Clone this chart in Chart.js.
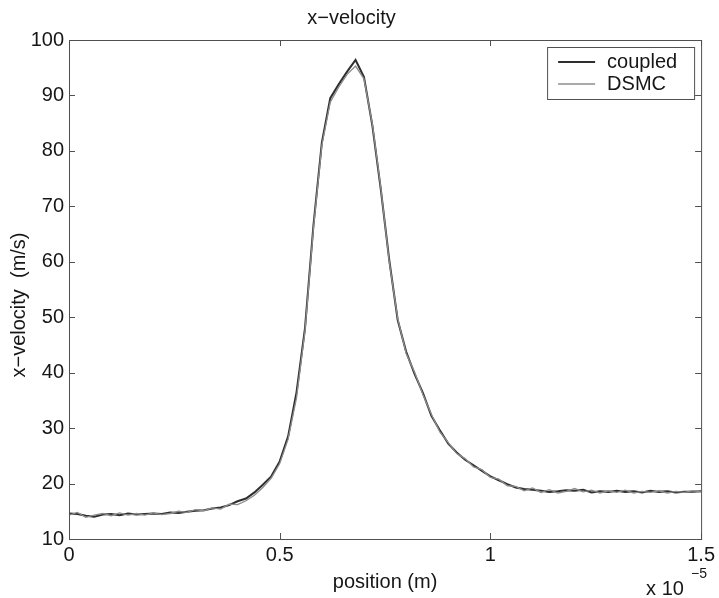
<!DOCTYPE html>
<html>
<head>
<meta charset="utf-8">
<title>x-velocity</title>
<script src="https://cdn.jsdelivr.net/npm/chart.js@4.4.1/dist/chart.umd.min.js"></script>
<style>
  body { margin: 0; background: #fff; }
</style>
</head>
<body>
<canvas id="velocityChart" width="719" height="598"></canvas>
<script>
// Data (position in units of 1e-5 m)
const positions = [
    0.00, 0.02, 0.04, 0.06, 0.08, 0.10, 0.12, 0.14, 0.16, 0.18,
    0.20, 0.22, 0.24, 0.26, 0.28, 0.30, 0.32, 0.34, 0.36, 0.38,
    0.40, 0.42, 0.44, 0.46, 0.48, 0.50, 0.52, 0.54, 0.56, 0.58,
    0.60, 0.62, 0.64, 0.66, 0.68, 0.70, 0.72, 0.74, 0.76, 0.78,
    0.80, 0.82, 0.84, 0.86, 0.88, 0.90, 0.92, 0.94, 0.96, 0.98,
    1.00, 1.02, 1.04, 1.06, 1.08, 1.10, 1.12, 1.14, 1.16, 1.18,
    1.20, 1.22, 1.24, 1.26, 1.28, 1.30, 1.32, 1.34, 1.36, 1.38,
    1.40, 1.42, 1.44, 1.46, 1.48, 1.50
];
const coupledVelocity = [
    14.6, 14.5, 14.2, 14.0, 14.4, 14.5, 14.3, 14.6, 14.4, 14.5,
    14.6, 14.5, 14.8, 14.7, 14.9, 15.1, 15.2, 15.5, 15.7, 16.1,
    16.8, 17.3, 18.4, 19.8, 21.3, 24.0, 28.5, 36.5, 48.0, 66.5,
    81.5, 89.5, 92.0, 94.3, 96.4, 93.3, 84.5, 73.0, 60.3, 49.5,
    43.8, 39.8, 36.3, 32.2, 29.6, 27.2, 25.6, 24.3, 23.3, 22.3,
    21.3, 20.6, 19.9, 19.3, 19.0, 18.9, 18.7, 18.5, 18.6, 18.8,
    18.7, 18.9, 18.4, 18.6, 18.5, 18.7, 18.5, 18.6, 18.4, 18.7,
    18.5, 18.6, 18.4, 18.5, 18.5, 18.6
];
const dsmcVelocity = [
    14.3, 14.8, 13.9, 14.3, 14.6, 14.2, 14.7, 14.3, 14.6, 14.3,
    14.7, 14.4, 14.6, 15.0, 14.8, 15.3, 15.1, 15.6, 15.4, 16.3,
    16.2, 16.9, 17.9, 19.3, 21.0, 23.6, 28.0, 35.5, 47.5, 66.0,
    81.0, 88.8, 91.5, 93.8, 95.3, 93.0, 84.8, 73.3, 60.0, 49.8,
    43.5, 40.1, 36.0, 32.5, 29.3, 27.4, 25.4, 24.5, 23.0, 22.5,
    21.1, 20.8, 19.6, 19.5, 18.7, 19.2, 18.4, 18.9, 18.3, 18.6,
    19.1, 18.5, 18.8, 18.3, 18.7, 18.4, 18.8, 18.3, 18.6, 18.4,
    18.7, 18.3, 18.6, 18.4, 18.7, 18.5
];
const seriesLabels = ['coupled', 'DSMC'];
const xTicks = [0, 0.5, 1, 1.5];
const yTicks = [10, 20, 30, 40, 50, 60, 70, 80, 90, 100];

const FONT = '"Liberation Sans", Arial, Helvetica, sans-serif';
const TEXT_COLOR = '#161616';
const AXIS_COLOR = '#505050';
const COUPLED_COLOR = '#2e2e2e';
const DSMC_COLOR = '#8c8c8c';

function toPoints(values) {
    return positions.map((p, i) => ({ x: p, y: values[i] }));
}

// Box around the axes with inward tick marks, like the original plot
const frameAndTicks = {
    id: 'frameAndTicks',
    afterDatasetsDraw(chart) {
        const { ctx, chartArea: a, scales } = chart;
        const len = 6;
        ctx.save();
        ctx.strokeStyle = AXIS_COLOR;
        ctx.lineWidth = 1;
        ctx.strokeRect(a.left + 0.5, a.top + 0.5, a.right - a.left, a.bottom - a.top);
        ctx.beginPath();
        xTicks.forEach(v => {
            const px = Math.round(scales.x.getPixelForValue(v)) + 0.5;
            ctx.moveTo(px, a.bottom); ctx.lineTo(px, a.bottom - len);
            ctx.moveTo(px, a.top); ctx.lineTo(px, a.top + len);
        });
        yTicks.forEach(v => {
            const py = Math.round(scales.y.getPixelForValue(v)) + 0.5;
            ctx.moveTo(a.left, py); ctx.lineTo(a.left + len, py);
            ctx.moveTo(a.right, py); ctx.lineTo(a.right - len, py);
        });
        ctx.stroke();
        ctx.restore();
    }
};

// MATLAB-style legend box in the top right corner, the y label and the x 10^-5 exponent
const boxLegend = {
    id: 'boxLegend',
    afterDraw(chart) {
        const { ctx, chartArea: a } = chart;
        const sets = chart.data.datasets;
        const bx = a.right - 154, by = a.top + 7, bw = 147, bh = 52;
        ctx.save();
        ctx.fillStyle = '#fff';
        ctx.fillRect(bx, by, bw, bh);
        ctx.strokeStyle = AXIS_COLOR;
        ctx.lineWidth = 1;
        ctx.strokeRect(bx + 0.5, by + 0.5, bw, bh);
        ctx.font = '20px ' + FONT;
        ctx.textBaseline = 'middle';
        sets.forEach((ds, i) => {
            const y = by + 15 + i * 22;
            ctx.strokeStyle = ds.borderColor;
            ctx.lineWidth = ds.borderWidth;
            ctx.beginPath();
            ctx.moveTo(bx + 11, y);
            ctx.lineTo(bx + 48, y);
            ctx.stroke();
            ctx.fillStyle = TEXT_COLOR;
            ctx.fillText(ds.label, bx + 60, y);
        });

        // y axis label sits a little below the middle of the axis in the original
        ctx.save();
        ctx.translate(19, 305);
        ctx.rotate(-Math.PI / 2);
        ctx.textAlign = 'center';
        ctx.textBaseline = 'middle';
        ctx.fillText('x\u2212velocity  (m/s)', 0, 0);
        ctx.restore();

        // exponent label under the right end of the x axis
        ctx.fillStyle = TEXT_COLOR;
        ctx.textBaseline = 'alphabetic';
        ctx.font = '20px ' + FONT;
        ctx.fillText('x 10', a.right - 55, 595);
        ctx.font = '14px ' + FONT;
        ctx.fillText('\u22125', a.right - 10, 578);
        ctx.restore();
    }
};

const ctx = document.getElementById('velocityChart').getContext('2d');
new Chart(ctx, {
    type: 'line',
    data: {
        datasets: [
            {
                label: seriesLabels[0],
                data: toPoints(coupledVelocity),
                borderColor: COUPLED_COLOR,
                borderWidth: 2,
                pointRadius: 0,
                tension: 0,
                order: 1
            },
            {
                label: seriesLabels[1],
                data: toPoints(dsmcVelocity),
                borderColor: DSMC_COLOR,
                borderWidth: 1.3,
                pointRadius: 0,
                tension: 0,
                order: 0
            }
        ]
    },
    options: {
        responsive: false,
        animation: false,
        layout: { padding: { top: 0, right: 16, bottom: 0, left: 0 } },
        plugins: {
            legend: { display: false },
            tooltip: { enabled: false },
            title: {
                display: true,
                text: 'x\u2212velocity',
                color: TEXT_COLOR,
                font: { family: FONT, size: 20, weight: 'normal' },
                padding: { top: 6, bottom: 10 }
            }
        },
        scales: {
            x: {
                type: 'linear',
                min: 0,
                max: 1.5,
                afterBuildTicks: scale => { scale.ticks = xTicks.map(v => ({ value: v })); },
                afterFit: scale => { scale.height = 59; },
                ticks: {
                    color: TEXT_COLOR,
                    font: { family: FONT, size: 20 },
                    padding: 4,
                    maxRotation: 0,
                    callback: v => String(v)
                },
                grid: { display: false, drawTicks: false },
                border: { display: false },
                title: {
                    display: true,
                    text: 'position (m)',
                    color: TEXT_COLOR,
                    font: { family: FONT, size: 20 },
                    padding: { top: 0, bottom: 4 }
                }
            },
            y: {
                min: 10,
                max: 100,
                afterBuildTicks: scale => { scale.ticks = yTicks.map(v => ({ value: v })); },
                afterFit: scale => { scale.width = 69; },
                ticks: {
                    color: TEXT_COLOR,
                    font: { family: FONT, size: 20 },
                    padding: 5
                },
                grid: { display: false, drawTicks: false },
                border: { display: false }
            }
        }
    },
    plugins: [frameAndTicks, boxLegend]
});
</script>
</body>
</html>
